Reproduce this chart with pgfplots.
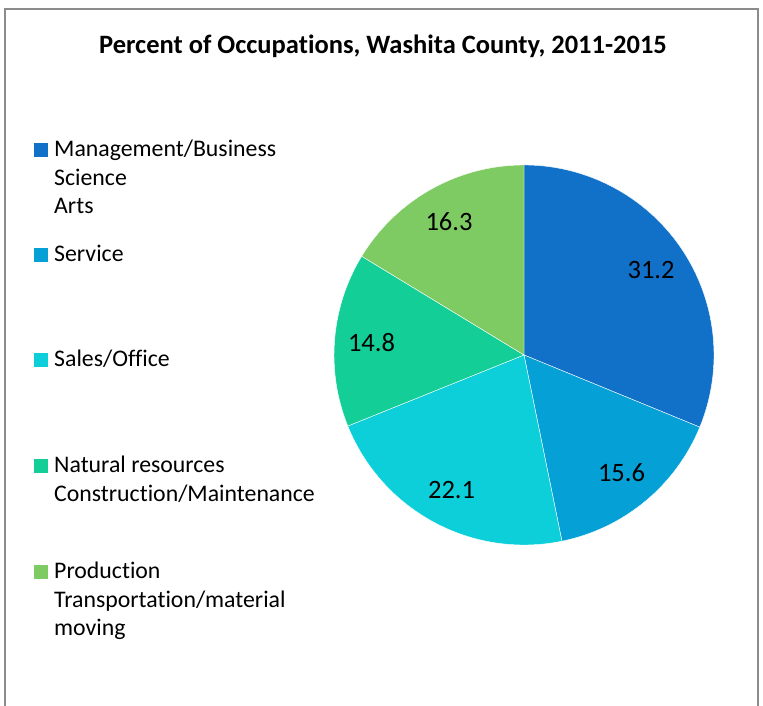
\documentclass[border=0pt]{standalone}
\usepackage{pgfplots}
\pgfplotsset{compat=1.18}
\usepackage{fontspec}
\setmainfont{Carlito}[Ligatures=NoCommon]
\definecolor{cMgmt}{HTML}{1170C8}
\definecolor{cServ}{HTML}{04A0D6}
\definecolor{cSales}{HTML}{0DCFDA}
\definecolor{cNat}{HTML}{13CF97}
\definecolor{cProd}{HTML}{7DCB62}
\definecolor{frame}{HTML}{8C8C8C}
\begin{document}
\begin{tikzpicture}[x=1pt,y=1pt]
\useasboundingbox (0,0) rectangle (763,706);
\begin{axis}[at={(0,0)}, anchor=south west, scale only axis,
  width=763pt, height=706pt, xmin=0, xmax=763, ymin=0, ymax=706,
  hide axis, clip=false]
\pgfplotsextra{
  \gdef\curang{90}
  \foreach \v/\c in {31.2/cMgmt,15.6/cServ,22.1/cSales,14.8/cNat,16.3/cProd}{
    \pgfmathsetmacro\e{\curang-3.6*\v}
    \pgfmathsetmacro\m{(\curang+\e)/2}
    \fill[\c, draw=white, line width=0.4pt] (axis cs:524,351) -- ++(\curang:190pt)
      arc[start angle=\curang, end angle=\e, radius=190pt] -- cycle;
    \path (axis cs:524,351) ++(\m:153pt) node[font=\fontsize{26.5}{30}\selectfont] {\v};
    \xdef\curang{\e}
  }
}
\end{axis}
% frame
\draw[frame, line width=2pt] (5,-5) -- (5,697) -- (758,697) -- (758,-5);
% title
\node[font=\bfseries\fontsize{26.5}{30}\selectfont] at (383,660) {Percent of Occupations, Washita County, 2011-2015};
% legend
\begin{scope}[every node/.style={anchor=base west, inner sep=0pt, font=\fontsize{23.8}{28}\selectfont}]
\fill[cMgmt] (34,549) rectangle (48,563);
\node at (54,549) {Management/Business};
\node at (54,520.5) {Science};
\node at (54,492) {Arts};
\fill[cServ] (34,444) rectangle (48,458);
\node at (54,444) {Service};
\fill[cSales] (34,339) rectangle (48,353);
\node at (54,339) {Sales/Office};
\fill[cNat] (34,233) rectangle (48,247);
\node at (54,233) {Natural resources};
\node at (54,204.5) {Construction/Maintenance};
\fill[cProd] (34,127) rectangle (48,141);
\node at (54,127) {Production};
\node at (54,98.5) {Transportation/material};
\node at (54,70) {moving};
\end{scope}
\end{tikzpicture}
\end{document}
